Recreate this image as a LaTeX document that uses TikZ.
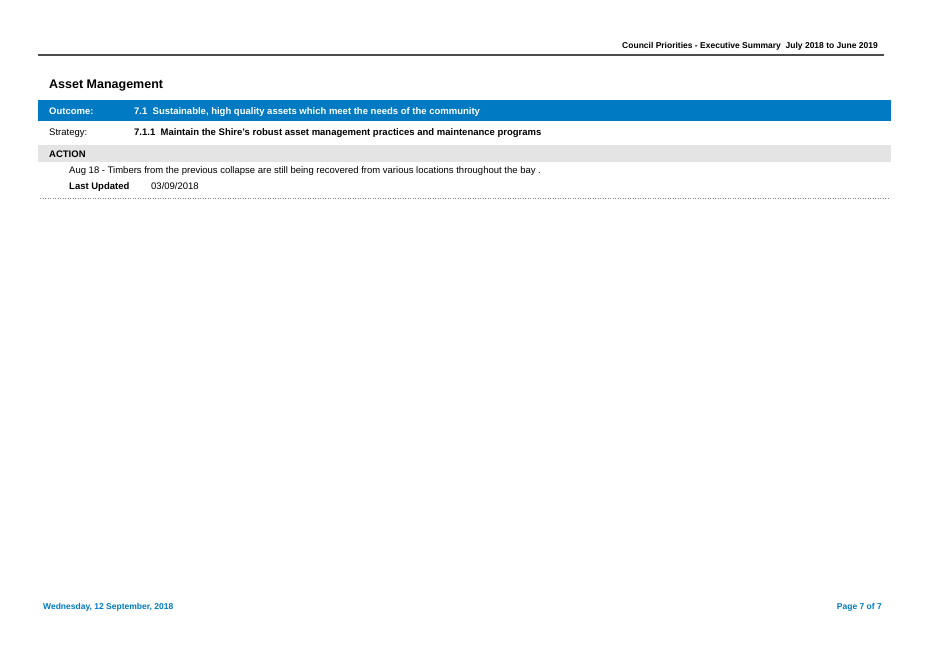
\documentclass[tikz,border=0pt]{standalone}
\usepackage{fontspec}
\setmainfont{Liberation Sans}
\definecolor{bandblue}{RGB}{0,122,194}
\definecolor{bandgrey}{RGB}{228,228,228}
\tikzset{
  lbl/.style={anchor=base west, inner sep=0pt, font=\fontsize{9.5}{11}\selectfont},
  hdr/.style={lbl, font=\fontsize{9.5}{11}\selectfont\bfseries},
  foot/.style={inner sep=0pt, anchor=base, text=bandblue, font=\fontsize{8.5}{10}\selectfont\bfseries}
}
\begin{document}
\begin{tikzpicture}[x=1pt, y=-1pt]
  \useasboundingbox (0,0) rectangle (928,657);
  % page header
  \draw[gray!60!black, line width=1.2pt] (38,55) -- (884,55);
  \node[hdr, anchor=base east, font=\fontsize{8.5}{10}\selectfont\bfseries] (head) at (878,48) {Council Priorities - Executive Summary\ \ July 2018 to June 2019};
  \node[hdr, font=\fontsize{12.5}{14}\selectfont\bfseries] (title) at (49,88) {Asset Management};
  % outcome band
  \fill[bandblue] (38,100) rectangle (891,121);
  \node[hdr, text=white] (outc) at (49,114) {Outcome:};
  \node[hdr, text=white] (outt) at (134,114) {7.1\ \ Sustainable, high quality assets which meet the needs of the community};
  % strategy row
  \node[lbl] (strc) at (49,135.5) {Strategy:};
  \node[hdr] (strt) at (134,135.5) {7.1.1\ \ Maintain the Shire’s robust asset management practices and maintenance programs};
  % action band
  \fill[bandgrey] (38,145) rectangle (891,162);
  \node[hdr] (act) at (49,157.5) {ACTION};
  \node[lbl] (note) at (69,173.5) {Aug 18 - Timbers from the previous collapse are still being recovered from various locations throughout the bay .};
  \node[hdr] (upd) at (69,189.5) {Last Updated};
  \node[lbl] (date) at (151,189.5) {03/09/2018};
  \draw[gray, dotted, line width=0.5pt] (40,198) -- (888,198);
  % footer
  \node[foot, anchor=base west] (fdate) at (43,609) {Wednesday, 12 September, 2018};
  \node[foot, anchor=base east] (fpage) at (882,609) {Page 7 of 7};
\end{tikzpicture}
\end{document}
